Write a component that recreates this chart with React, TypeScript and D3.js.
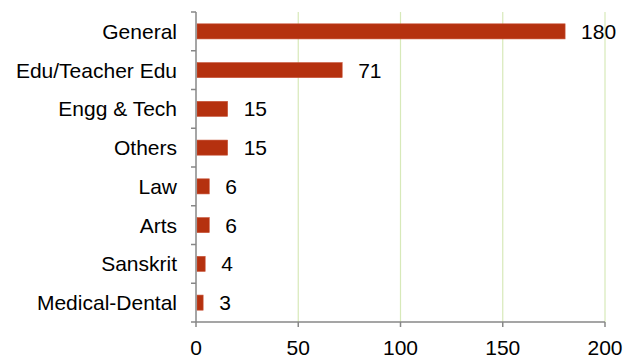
import React from "react";
import * as d3 from "d3";

const categories = ["General", "Edu/Teacher Edu", "Engg & Tech", "Others", "Law", "Arts", "Sanskrit", "Medical-Dental"];
const values = [180, 71, 15, 15, 6, 6, 4, 3];
const xTicks = [0, 50, 100, 150, 200];

export default function App() {
  const W = 630, H = 358;
  const left = 196, right = 605, top = 12, bottom = 322;
  const x = d3.scaleLinear().domain([0, 200]).range([left, right]);
  const y = d3.scaleBand<string>().domain(categories).range([top, bottom]).paddingInner(0.61).paddingOuter(0.305);
  const band = d3.scaleBand<string>().domain(categories).range([top, bottom]);
  const font = "'Liberation Sans', Arial, sans-serif";
  const fs = 21;
  return (
    <svg width={W} height={H} style={{ position: "absolute", left: 0, top: 0 }} fontFamily={font}>
      {xTicks.filter((t) => t > 0).map((t) => (
        <line key={"g" + t} x1={x(t)} x2={x(t)} y1={top} y2={bottom} stroke="#d7e9b9" strokeWidth={1.2} />
      ))}
      {categories.map((c, i) => (
        <g key={c}>
          <rect x={x(0) + 1} y={y(c)!} width={x(values[i]) - x(0)} height={y.bandwidth()} fill="#b5310f" stroke="#c9553a" strokeWidth={0.6} />
          <text x={x(values[i]) + 17} y={y(c)! + y.bandwidth() / 2} dy="0.36em" fontSize={fs} fill="#000">{values[i]}</text>
          <text x={177} y={band(c)! + band.bandwidth() / 2} dy="0.36em" fontSize={fs} textAnchor="end" fill="#000">{c}</text>
        </g>
      ))}
      <line x1={left} x2={left} y1={top} y2={bottom} stroke="#878787" strokeWidth={1.5} />
      {[...categories.map((c) => band(c)!), bottom].map((v, i) => (
        <line key={"yt" + i} x1={left - 5} x2={left} y1={v} y2={v} stroke="#878787" strokeWidth={1.5} />
      ))}
      <line x1={left} x2={right} y1={bottom} y2={bottom} stroke="#878787" strokeWidth={1.5} />
      {xTicks.map((t) => (
        <g key={"xt" + t}>
          <line x1={x(t)} x2={x(t)} y1={bottom} y2={bottom + 5} stroke="#878787" strokeWidth={1.5} />
          <text x={x(t)} y={355} fontSize={fs} textAnchor="middle" fill="#000">{t}</text>
        </g>
      ))}
    </svg>
  );
}
